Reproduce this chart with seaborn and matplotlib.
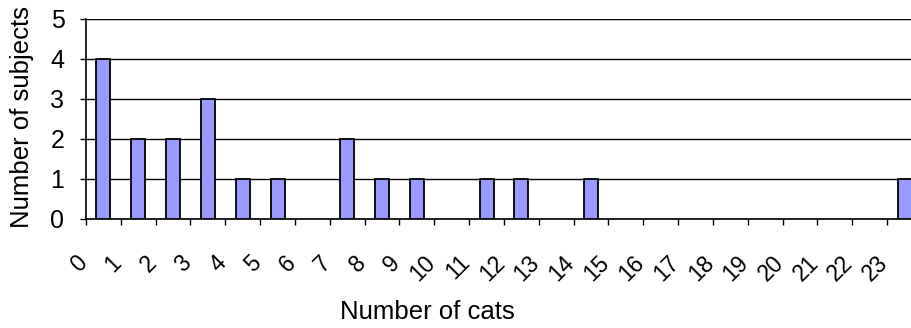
import numpy as np
import pandas as pd
import matplotlib
matplotlib.use("Agg")
import matplotlib.pyplot as plt
import matplotlib.transforms as mtransforms
from matplotlib.ticker import FixedLocator
import seaborn as sns

# Number of cats owned (categories) and how many subjects own that many
cat_counts = [str(i) for i in range(24)]
subjects = [4, 2, 2, 3, 1, 1, 0, 2, 1, 1, 0, 1, 1, 0, 1, 0, 0, 0, 0, 0, 0, 0, 0, 1]
y_ticks = [0, 1, 2, 3, 4, 5]

sns.set_style("white")
plt.rcParams["font.family"] = ["Liberation Sans", "DejaVu Sans"]
plt.rcParams["text.color"] = "black"
plt.rcParams["axes.labelcolor"] = "black"
plt.rcParams["xtick.color"] = "black"
plt.rcParams["ytick.color"] = "black"

df = pd.DataFrame({"cats": cat_counts, "subjects": subjects})

fig = plt.figure(figsize=(9.12, 3.28), dpi=100)
ax = fig.add_axes([86 / 912, (328 - 219) / 328, 836 / 912, 200 / 328])

sns.barplot(data=df, x="cats", y="subjects", order=cat_counts, color="#9999FF",
            saturation=1, width=0.4, edgecolor="black", linewidth=1.3, ax=ax,
            zorder=3)

# empty categories get no outline along the baseline
for patch in ax.patches:
    if patch.get_height() == 0:
        patch.set_linewidth(0)

ax.set_xlim(-0.5, len(cat_counts) - 0.5)
ax.set_ylim(0, 5)
ax.set_yticks(y_ticks)
ax.set_yticklabels([str(v) for v in y_ticks], fontsize=18)

# horizontal gridlines
ax.yaxis.grid(True, color="black", linewidth=1.0, zorder=0)
ax.xaxis.grid(False)
ax.set_axisbelow(True)

for side in ("top", "right"):
    ax.spines[side].set_visible(False)
for side in ("left", "bottom"):
    ax.spines[side].set_visible(True)
    ax.spines[side].set_color("black")
    ax.spines[side].set_linewidth(1.2)

# tick marks between categories, labels under each category
ax.xaxis.set_minor_locator(FixedLocator(np.arange(-0.5, len(cat_counts), 1.0)))
ax.tick_params(axis="x", which="minor", bottom=True, length=4.5, width=1, color="black")
ax.tick_params(axis="x", which="major", bottom=True, length=0, pad=23)
ax.tick_params(axis="y", which="major", left=True, length=4.5, width=1, color="black",
               pad=11)

ax.set_xticks(range(len(cat_counts)))
ax.set_xticklabels(cat_counts, fontsize=16.5, rotation=45, ha="right", va="top")
shift = mtransforms.ScaledTranslation(-12 / 100, 0, fig.dpi_scale_trans)
for lab in ax.get_xticklabels():
    lab.set_transform(lab.get_transform() + shift)

ax.set_xlabel("Number of cats", fontsize=18.5, va="center")
ax.xaxis.set_label_coords((427 - 86) / 836, (219 - 312) / 200)
ax.set_ylabel("Number of subjects", fontsize=18.5, va="center")
ax.yaxis.set_label_coords((22 - 86) / 836, (219 - 117) / 200)

fig.savefig("out.png", dpi=100)
